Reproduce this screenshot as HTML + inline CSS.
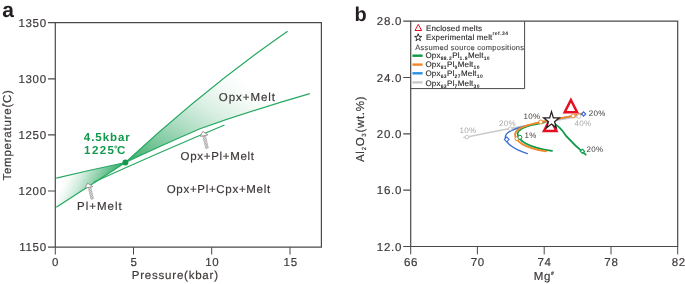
<!DOCTYPE html>
<html><head><meta charset="utf-8">
<style>
html,body{margin:0;padding:0;background:#fff;}
svg{display:block;will-change:transform;}
text{font-family:"Liberation Sans",sans-serif;fill:#3e3a39;text-rendering:geometricPrecision;}
.t{font-size:11.5px;letter-spacing:0.7px;stroke:#3e3a39;stroke-width:0.18px;}
.s{font-size:8px;letter-spacing:0.15px;fill:#231f20;stroke:#231f20;stroke-width:0.12px;}
.sub{font-size:5px;font-weight:bold;letter-spacing:0.45px;stroke-width:0;}
.p{font-size:8px;letter-spacing:0.3px;}
.ax{stroke:#4c4948;stroke-width:1.2;fill:none;}
.g{stroke:#25a860;stroke-width:1.200;fill:none;}
</style></head><body>
<svg width="685" height="284" viewBox="0 0 685 284">
<defs>
<linearGradient id="g1" gradientUnits="userSpaceOnUse" x1="125" y1="163" x2="191" y2="51">
<stop offset="0" stop-color="#2aa862"/><stop offset="0.12" stop-color="#55b981"/><stop offset="0.3" stop-color="#86cca5"/><stop offset="0.5" stop-color="#b5e0c8"/><stop offset="0.7" stop-color="#dcf0e5"/><stop offset="0.87" stop-color="#f3faf6"/><stop offset="1" stop-color="#ffffff"/>
</linearGradient>
<linearGradient id="g2" gradientUnits="userSpaceOnUse" x1="125" y1="163" x2="81.800" y2="142.400">
<stop offset="0" stop-color="#2aa862"/><stop offset="0.2" stop-color="#5dbd87"/><stop offset="0.45" stop-color="#98d4b2"/><stop offset="0.7" stop-color="#d3eddf"/><stop offset="0.9" stop-color="#f4fbf7"/><stop offset="1" stop-color="#ffffff"/>
</linearGradient>
</defs>
<rect width="685" height="284" fill="#fff"/>
<!-- ================= panel a ================= -->
<text x="2.2" y="17.400" style="font-size:21px;font-weight:bold;fill:#231f20">a</text>
<!-- fills -->
<path d="M125.400,162.500 Q206.500,87.500 287.600,31.200 L309.800,93.700 Q250,111 200,128.700 Q160,146 125.400,162.500 Z" fill="url(#g1)"/>
<path d="M125.400,162.500 Q90,170 56.300,178.200 L56.300,207.300 Z" fill="url(#g2)"/>
<!-- green lines -->
<path class="g" d="M56.300,207.300 L125.400,162.500 Q206.500,87.500 287.600,31.200"/>
<path class="g" d="M56.300,178.200 Q90,170 125.400,162.500 Q160,146 200,128.700 Q250,111 309.800,93.700"/>
<path class="g" d="M94,182 Q160,152 224.500,125"/>
<circle cx="125.400" cy="162.500" r="3" fill="#13994d"/>
<!-- arrows -->
<g>
<path d="M90.82,187.03 L88.38,187.57 L90.98,199.27 L93.42,198.73 Z" fill="#fff" stroke="#8d8a8a" stroke-width="0.5"/>
<path d="M88.97,187.44 L88.51,188.16 M90.84,187.13 L88.94,190.11 M91.28,189.08 L89.38,192.06 M91.71,191.03 L89.81,194.01 M92.14,192.98 L90.25,195.97 M92.58,194.94 L90.68,197.92 M93.01,196.89 L91.58,199.14" fill="none" stroke="#8f8c8c" stroke-width="0.8"/>
<path d="M87.600,183.100 L92.700,186.600 L85.100,188.100 Z" fill="#fff" stroke="#858282" stroke-width="0.800"/>
<path d="M205.32,135.52 L202.88,136.08 L205.78,148.48 L208.22,147.92 Z" fill="#fff" stroke="#8d8a8a" stroke-width="0.5"/>
<path d="M203.47,135.95 L203.02,136.67 M205.34,135.61 L203.47,138.62 M205.80,137.56 L203.93,140.56 M206.25,139.51 L204.39,142.51 M206.71,141.46 L204.84,144.46 M207.16,143.40 L205.30,146.41 M207.62,145.35 L205.75,148.35 M208.07,147.30 L207.60,148.06" fill="none" stroke="#8f8c8c" stroke-width="0.8"/>
<path d="M202.900,131.400 L207.900,134.900 L200.300,136.400 Z" fill="#fff" stroke="#858282" stroke-width="0.800"/>
</g>
<!-- axes -->
<path class="ax" d="M55.300,22.600 H321.400 V247.200 H55.300 Z"/>
<path class="ax" d="M48,22.600H55.300 M48,78.800H55.300 M48,134.900H55.300 M48,191H55.300 M48,247.200H55.300"/>
<path class="ax" d="M55.300,247.200V254.600 M133.500,247.200V254.600 M211.700,247.200V254.600 M290,247.200V254.600" style="stroke-width:1"/>
<g class="t" text-anchor="end">
<text x="46.800" y="26.700">1350</text><text x="46.800" y="82.900">1300</text><text x="46.800" y="139">1250</text><text x="46.800" y="195.100">1200</text><text x="46.800" y="251.300">1150</text>
</g>
<g class="t" text-anchor="middle">
<text x="55.600" y="266.200">0</text><text x="134" y="266.200">5</text><text x="212.300" y="266.200">10</text><text x="290.700" y="266.200">15</text>
</g>
<text class="t" x="131.800" y="279.200" style="letter-spacing:0.78px">Pressure(kbar)</text>
<text class="t" transform="translate(11.400,180.600) rotate(-90)" style="letter-spacing:0.77px">Temperature(C)</text>
<circle cx="3.200" cy="104.600" r="0.900" fill="none" stroke="#3e3a39" stroke-width="0.700"/>
<text class="t" x="218.800" y="100.600" style="letter-spacing:0.95px">Opx+Melt</text>
<text class="t" x="180.600" y="160.400">Opx+Pl+Melt</text>
<text class="t" x="166.700" y="192.800">Opx+Pl+Cpx+Melt</text>
<text class="t" x="77" y="210" style="letter-spacing:1px">Pl+Melt</text>
<g style="font-size:11.5px;font-weight:bold;letter-spacing:0.85px">
<text x="83.800" y="140.600" style="fill:#13994d;letter-spacing:0.95px">4.5kbar</text>
<text x="84.100" y="154.200" style="fill:#13994d;letter-spacing:1.4px">1225</text>
<text x="117" y="154.200" style="fill:#13994d">C</text>
</g>
<circle cx="115.800" cy="147" r="1.100" fill="none" stroke="#13994d" stroke-width="0.8"/>

<!-- ================= panel b ================= -->
<text x="354.500" y="20.700" style="font-size:20px;font-weight:bold;fill:#231f20">b</text>
<!-- data -->
<g fill="none" stroke-linecap="round">
<!-- gray -->
<path d="M464,137.600 L467,137 Q520,126 578.900,116.400" stroke="#c9c9c9" stroke-width="1.500"/>
<!-- blue -->
<path d="M583.600,113.700 Q555,119 528,125.500 C515,128.500 505.300,131.500 505.300,137.300 C505.300,143 514,149.500 527.300,153.600" stroke="#3b6fd4" stroke-width="1.400"/>
<!-- green -->
<path d="M544,122.300 L534,124.500 C526,126.500 517.600,129 517.600,133.800 C517.600,140 528,148 552,150.800" stroke="#0e9a48" stroke-width="1.800"/>
<path d="M551,121.500 Q560,126 566.300,136.200 Q575,146 585.700,154.600" stroke="#0e9a48" stroke-width="1.800"/>
<!-- orange -->
<path d="M546.100,151.400 C524,148 515,141 515,134.600 C515,129.500 522,126.800 530,124.600 L540.800,122 L573.100,115.900 L582,113.500" stroke="#ee8a2c" stroke-width="1.800"/>
</g>
<!-- triangles -->
<path d="M570.900,100 L577.100,112.150 L564.700,112.150 Z" fill="#fff" stroke="#e60f22" stroke-width="2.500" stroke-linejoin="miter"/>
<path d="M550.200,118.800 L556.400,130.950 L544,130.950 Z" fill="#fff" stroke="#e60f22" stroke-width="2.500" stroke-linejoin="miter"/>
<!-- star -->
<path id="star" d="M551.50,111.64 L553.36,117.83 L559.39,117.83 L554.52,121.66 L556.38,127.85 L551.50,124.02 L546.62,127.85 L548.48,121.66 L543.61,117.83 L549.64,117.83 Z" fill="#fff" stroke="#231f20" stroke-width="1.250" stroke-linejoin="miter"/>
<!-- markers -->
<g fill="#fff" stroke-width="1">
<circle cx="467" cy="137" r="1.800" stroke="#c9c9c9"/>
<circle cx="510.200" cy="128.600" r="1.800" stroke="#c9c9c9"/>
<circle cx="578.900" cy="116.400" r="2" stroke="#c9c9c9"/>
<circle cx="540.800" cy="122" r="2" stroke="#ee8a2c"/>
<circle cx="573.100" cy="115.900" r="2" stroke="#ee8a2c"/>
<circle cx="517" cy="138.600" r="2" stroke="#ee8a2c"/>
<circle cx="519.900" cy="137.300" r="2" stroke="#0e9a48"/>
<path d="M582.400,149.200 L584.500,151.300 L582.400,153.400 L580.300,151.300 Z" stroke="#0e9a48" stroke-width="1.100"/>
<path d="M506.700,137 L509.100,139.400 L506.700,141.800 L504.300,139.400 Z" stroke="#3b6fd4" stroke-width="1.100"/>
<path d="M583.600,111.900 L585.700,114 L583.600,116.100 L581.500,114 Z" stroke="#3b6fd4" stroke-width="1.200"/>
</g>
<!-- percent labels -->
<g class="p">
<text x="459.500" y="132.500" style="fill:#a5a5a5">10%</text>
<text x="499" y="126.300" style="fill:#a5a5a5">20%</text>
<text x="574.500" y="126" style="fill:#a5a5a5">40%</text>
<text x="523.500" y="118.800">10%</text>
<text x="524.400" y="138.200">1%</text>
<text x="588.800" y="115.900">20%</text>
<text x="586.500" y="151.700">20%</text>
</g>
<!-- axes -->
<path class="ax" d="M410.700,21.200 H677.700 V246.500 H410.700 Z"/>
<path class="ax" d="M403.200,21.200H410.700 M403.200,77.500H410.700 M403.200,133.800H410.700 M403.200,190.200H410.700 M403.200,246.500H410.700"/>
<path class="ax" d="M410.700,246.500V254.400 M477.400,246.500V254.400 M544.200,246.500V254.400 M611,246.500V254.400 M677.700,246.500V254.400" style="stroke-width:1"/>
<g class="t" text-anchor="end">
<text x="402" y="25.300">28.0</text><text x="402" y="81.600">24.0</text><text x="402" y="137.900">20.0</text><text x="402" y="194.300">16.0</text><text x="402" y="250.600">12.0</text>
</g>
<g class="t" text-anchor="middle">
<text x="411.100" y="265.800">66</text><text x="477.800" y="265.800">70</text><text x="544.600" y="265.800">74</text><text x="611.400" y="265.800">78</text><text x="678.800" y="265.800">82</text>
</g>
<text class="t" x="533.700" y="279.700">Mg<tspan dy="-4.600" style="font-size:5px;font-weight:bold">#</tspan></text>
<text class="t" transform="translate(364,162) rotate(-90)" style="letter-spacing:0.7px">Al<tspan dy="2" style="font-size:6px">2</tspan><tspan dy="-2">O</tspan><tspan dy="2" style="font-size:6px">3</tspan><tspan dy="-2">(wt.%)</tspan></text>
<!-- legend -->
<path class="ax" d="M410.700,88.600 H524.600 V21.200" style="stroke-width:1"/>
<path d="M418.300,24.400 L421.600,30.500 L415,30.500 Z" fill="#fff" stroke="#e60f22" stroke-width="1"/>
<path d="M418.20,33.69 L419.05,36.39 L421.81,36.39 L419.58,38.06 L420.43,40.77 L418.20,39.10 L415.97,40.77 L416.82,38.06 L414.59,36.39 L417.35,36.39 Z" fill="#fff" stroke="#231f20" stroke-width="0.9"/>
<text class="s" x="425.900" y="30.700">Enclosed melts</text>
<text class="s" x="425.900" y="39.800">Experimental melt<tspan class="sub" dy="-4.500">ref.34</tspan></text>
<text class="s" x="415.300" y="50.100" style="fill:#5a5655;font-size:7.500px;letter-spacing:0.27px">Assumed source compositions</text>
<path d="M412.400,55.700H422.600" stroke="#0e9a48" stroke-width="2.400"/>
<path d="M412.400,64.600H422.600" stroke="#ee8a2c" stroke-width="2.400"/>
<path d="M412.400,73.300H422.600" stroke="#2a8fe0" stroke-width="2.400"/>
<path d="M412.400,82.400H422.600" stroke="#c9c9c9" stroke-width="2.400"/>
<text class="s" x="425.500" y="58.100">Opx<tspan class="sub" dy="2">88.2</tspan><tspan dy="-2">Pl</tspan><tspan class="sub" dy="2">1.8</tspan><tspan dy="-2">Melt</tspan><tspan class="sub" dy="2">10</tspan></text>
<text class="s" x="425.500" y="67.300">Opx<tspan class="sub" dy="2">81</tspan><tspan dy="-2">Pl</tspan><tspan class="sub" dy="2">9</tspan><tspan dy="-2">Melt</tspan><tspan class="sub" dy="2">10</tspan></text>
<text class="s" x="425.500" y="76.300">Opx<tspan class="sub" dy="2">63</tspan><tspan dy="-2">Pl</tspan><tspan class="sub" dy="2">27</tspan><tspan dy="-2">Melt</tspan><tspan class="sub" dy="2">10</tspan></text>
<text class="s" x="425.500" y="85.500">Opx<tspan class="sub" dy="2">63</tspan><tspan dy="-2">Pl</tspan><tspan class="sub" dy="2">7</tspan><tspan dy="-2">Melt</tspan><tspan class="sub" dy="2">30</tspan></text>
</svg>
</body></html>
